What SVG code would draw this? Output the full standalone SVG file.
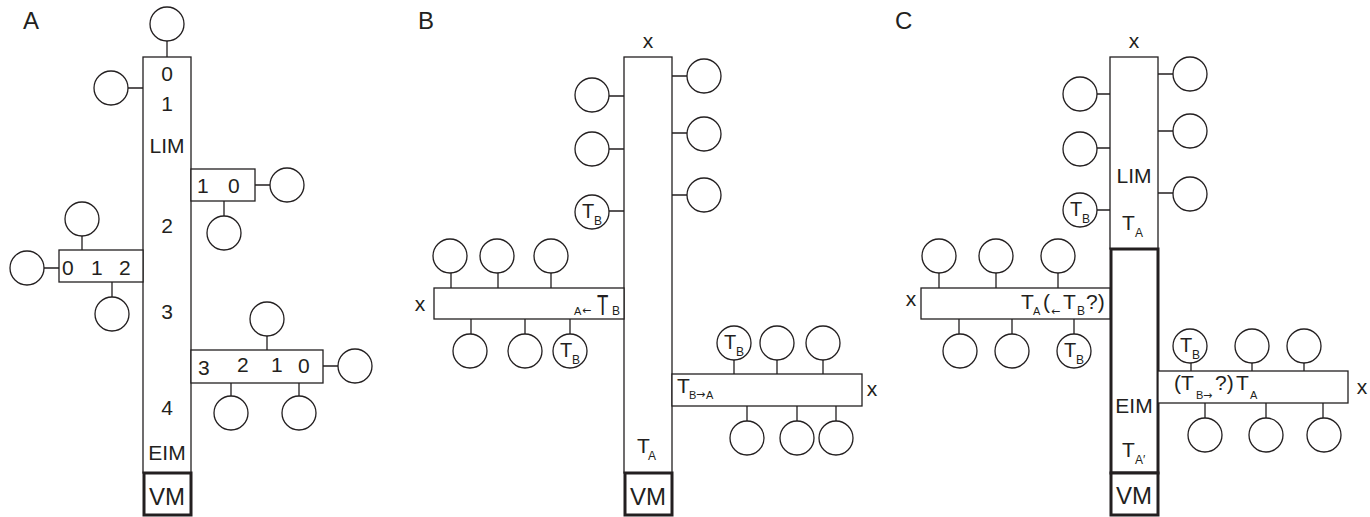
<svg xmlns="http://www.w3.org/2000/svg" width="1370" height="517" viewBox="0 0 1370 517">
  <defs>
    <style>
      .ln { stroke: #231f20; stroke-width: 1.3; fill: none; }
      .bx { fill: #fff; stroke: #231f20; stroke-width: 1.3; }
      .thk { fill: #fff; stroke: #231f20; stroke-width: 3; }
      .c { fill: #fff; stroke: #231f20; stroke-width: 1.3; }
      text { font-family: "Liberation Sans", Arial, sans-serif; fill: #231f20; }
      .lab { font-size: 24px; }
      .t { font-size: 21px; }
      .m { font-size: 21px; text-anchor: middle; }
      .vm { font-size: 24px; text-anchor: middle; }
      .x { font-size: 21px; text-anchor: middle; }
      .ct { font-size: 20px; }
      .s { font-size: 12px; }
      .ss { font-size: 11px; }
      .ar { font-family: "DejaVu Sans", sans-serif; font-size: 11px; }
    </style>
    <circle id="ring" r="17" class="c"/>
  </defs>

  <!-- ============ Panel A ============ -->
  <text class="lab" x="23" y="29">A</text>

  <g id="a-connectors">
    <path class="ln" d="M167 41V57 M128 88H143 M255 185H270 M224 201V216 M82 236V250 M43 268H59 M112 282V297 M267 336V350 M323 366H338 M231 383V397 M299 383V397"/>
  </g>

  <g id="a-bar">
    <rect class="bx" x="143" y="57" width="48" height="416"/>
    <text class="m" x="167" y="81">0</text>
    <text class="m" x="167" y="111">1</text>
    <text class="m" x="167" y="153">LIM</text>
    <text class="m" x="167" y="233">2</text>
    <text class="m" x="167" y="319">3</text>
    <text class="m" x="167" y="415">4</text>
    <text class="m" x="167" y="460">EIM</text>
  </g>
  <g id="a-vm">
    <rect class="thk" x="144" y="473" width="47" height="42"/>
    <text class="vm" x="167" y="505">VM</text>
  </g>

  <g id="a-box10">
    <rect class="bx" x="191" y="169" width="64" height="32"/>
    <text class="t" x="197" y="193">1</text>
    <text class="t" x="228" y="193">0</text>
  </g>
  <g id="a-box012">
    <rect class="bx" x="59" y="250" width="84" height="32"/>
    <text class="t" x="62" y="275">0</text>
    <text class="t" x="91" y="275">1</text>
    <text class="t" x="119" y="275">2</text>
  </g>
  <g id="a-box3210">
    <rect class="bx" x="191" y="350" width="132" height="33"/>
    <text class="t" x="198" y="375">3</text>
    <text class="t" x="237" y="372">2</text>
    <text class="t" x="271" y="372">1</text>
    <text class="t" x="298" y="373">0</text>
  </g>

  <g id="a-units">
    <use href="#ring" x="167" y="24"/>
    <use href="#ring" x="111" y="88"/>
    <use href="#ring" x="287" y="185"/>
    <use href="#ring" x="224" y="233"/>
    <use href="#ring" x="82" y="219"/>
    <use href="#ring" x="27" y="268"/>
    <use href="#ring" x="112" y="314"/>
    <use href="#ring" x="267" y="319"/>
    <use href="#ring" x="355" y="366"/>
    <use href="#ring" x="231" y="413"/>
    <use href="#ring" x="299" y="413"/>
  </g>

  <!-- ============ Panel B ============ -->
  <text class="lab" x="418" y="29">B</text>

  <g id="b-connectors">
    <path class="ln" d="M609 96H624 M609 149H624 M609 211H624 M672 76H687 M672 133H687 M672 195H687 M451 273V288 M498 273V288 M551 273V288 M471 319V334 M525 319V334 M570 319V334 M734 360V374 M777 360V374 M823 360V374 M747 406V421 M797 406V421 M836 406V421"/>
  </g>

  <g id="b-bar">
    <rect class="bx" x="624" y="57" width="48" height="416"/>
    <text class="x" x="648" y="48">x</text>
    <text class="t" x="637" y="453">T</text>
    <text class="s" x="648" y="460">A</text>
  </g>
  <g id="b-vm">
    <rect class="thk" x="625" y="473" width="47" height="42"/>
    <text class="vm" x="648" y="505">VM</text>
  </g>

  <g id="b-left-arm">
    <rect class="bx" x="434" y="288" width="190" height="31"/>
    <text class="x" x="420" y="311">x</text>
    <text class="ss" x="574" y="315">A</text>
    <text class="ar" x="582" y="314">←</text>
    <!-- tall, narrow T -->
    <text style="font-size:30px" transform="translate(597 315) scale(0.62 1)">T</text>
    <text class="s" x="612" y="315">B</text>
  </g>
  <g id="b-right-arm">
    <rect class="bx" x="672" y="374" width="190" height="32"/>
    <text class="x" x="872" y="396">x</text>
    <text class="t" x="677" y="393">T</text>
    <text class="ss" x="689" y="399">B</text>
    <text class="ar" x="696" y="398">→</text>
    <text class="ss" x="706" y="399">A</text>
  </g>

  <g id="b-units">
    <use href="#ring" x="592" y="95"/>
    <use href="#ring" x="592" y="149"/>
    <g id="b-tb1"><use href="#ring" x="592" y="212"/><text class="ct" x="582" y="218">T</text><text class="s" x="594" y="225">B</text></g>
    <use href="#ring" x="704" y="76"/>
    <use href="#ring" x="704" y="134"/>
    <use href="#ring" x="704" y="195"/>
    <use href="#ring" x="450" y="256"/>
    <use href="#ring" x="497" y="256"/>
    <use href="#ring" x="551" y="256"/>
    <use href="#ring" x="470" y="351"/>
    <use href="#ring" x="525" y="351"/>
    <g id="b-tb2"><use href="#ring" x="570" y="351"/><text class="ct" x="560" y="357">T</text><text class="s" x="572" y="364">B</text></g>
    <g id="b-tb3"><use href="#ring" x="734" y="343"/><text class="ct" x="724" y="349">T</text><text class="s" x="736" y="356">B</text></g>
    <use href="#ring" x="777" y="343"/>
    <use href="#ring" x="823" y="343"/>
    <use href="#ring" x="747" y="438"/>
    <use href="#ring" x="797" y="438"/>
    <use href="#ring" x="836" y="438"/>
  </g>

  <!-- ============ Panel C ============ -->
  <text class="lab" x="895" y="29">C</text>

  <g id="c-connectors">
    <path class="ln" d="M1097 94H1110 M1097 148H1110 M1097 210H1110 M1158 74H1173 M1158 131H1173 M1158 193H1173 M939 273V288 M996 273V288 M1058 273V288 M959 319V334 M1012 319V334 M1074 319V334 M1191 363V371 M1252 363V371 M1304 363V371 M1205 403V418 M1266 403V418 M1323 403V418"/>
  </g>

  <g id="c-lim">
    <rect class="bx" x="1110" y="57" width="48" height="192"/>
    <text class="x" x="1134" y="48">x</text>
    <text class="m" x="1134" y="183">LIM</text>
    <text class="t" x="1122" y="230">T</text>
    <text class="s" x="1135" y="237">A</text>
  </g>
  <g id="c-eim">
    <rect class="thk" x="1111" y="249" width="47" height="224"/>
    <text class="m" x="1134" y="413">EIM</text>
    <text class="t" x="1122" y="457">T</text>
    <text class="s" x="1135" y="464">A′</text>
  </g>
  <g id="c-vm">
    <rect class="thk" x="1111" y="473" width="47" height="42"/>
    <text class="vm" x="1134" y="504">VM</text>
  </g>

  <g id="c-left-arm">
    <rect class="bx" x="921" y="288" width="189" height="31"/>
    <text class="x" x="911" y="306">x</text>
    <text class="t" x="1021" y="309">T</text>
    <text class="ss" x="1033" y="315">A</text>
    <text class="t" x="1043" y="309">(</text>
    <text class="ar" x="1051" y="315">←</text>
    <text class="t" x="1063" y="309">T</text>
    <text class="s" x="1077" y="315">B</text>
    <text class="t" x="1086" y="309">?)</text>
  </g>
  <g id="c-right-arm">
    <rect class="bx" x="1158" y="371" width="190" height="32"/>
    <text class="x" x="1362" y="394">x</text>
    <text class="t" x="1174" y="390">(T</text>
    <text class="ss" x="1196" y="399">B</text>
    <text class="ar" x="1203" y="399">→</text>
    <text class="t" x="1215" y="390">?)</text>
    <text class="t" x="1236" y="390">T</text>
    <text class="ss" x="1250" y="399">A</text>
  </g>

  <g id="c-units">
    <use href="#ring" x="1080" y="94"/>
    <use href="#ring" x="1080" y="149"/>
    <g id="c-tb1"><use href="#ring" x="1080" y="210"/><text class="ct" x="1070" y="216">T</text><text class="s" x="1082" y="223">B</text></g>
    <use href="#ring" x="1190" y="74"/>
    <use href="#ring" x="1190" y="131"/>
    <use href="#ring" x="1190" y="194"/>
    <use href="#ring" x="939" y="256"/>
    <use href="#ring" x="996" y="256"/>
    <use href="#ring" x="1058" y="256"/>
    <use href="#ring" x="960" y="351"/>
    <use href="#ring" x="1012" y="351"/>
    <g id="c-tb2"><use href="#ring" x="1074" y="351"/><text class="ct" x="1064" y="357">T</text><text class="s" x="1076" y="364">B</text></g>
    <g id="c-tb3"><use href="#ring" x="1190" y="346"/><text class="ct" x="1180" y="352">T</text><text class="s" x="1192" y="359">B</text></g>
    <use href="#ring" x="1252" y="346"/>
    <use href="#ring" x="1304" y="346"/>
    <use href="#ring" x="1205" y="435"/>
    <use href="#ring" x="1266" y="435"/>
    <use href="#ring" x="1324" y="435"/>
  </g>
</svg>
